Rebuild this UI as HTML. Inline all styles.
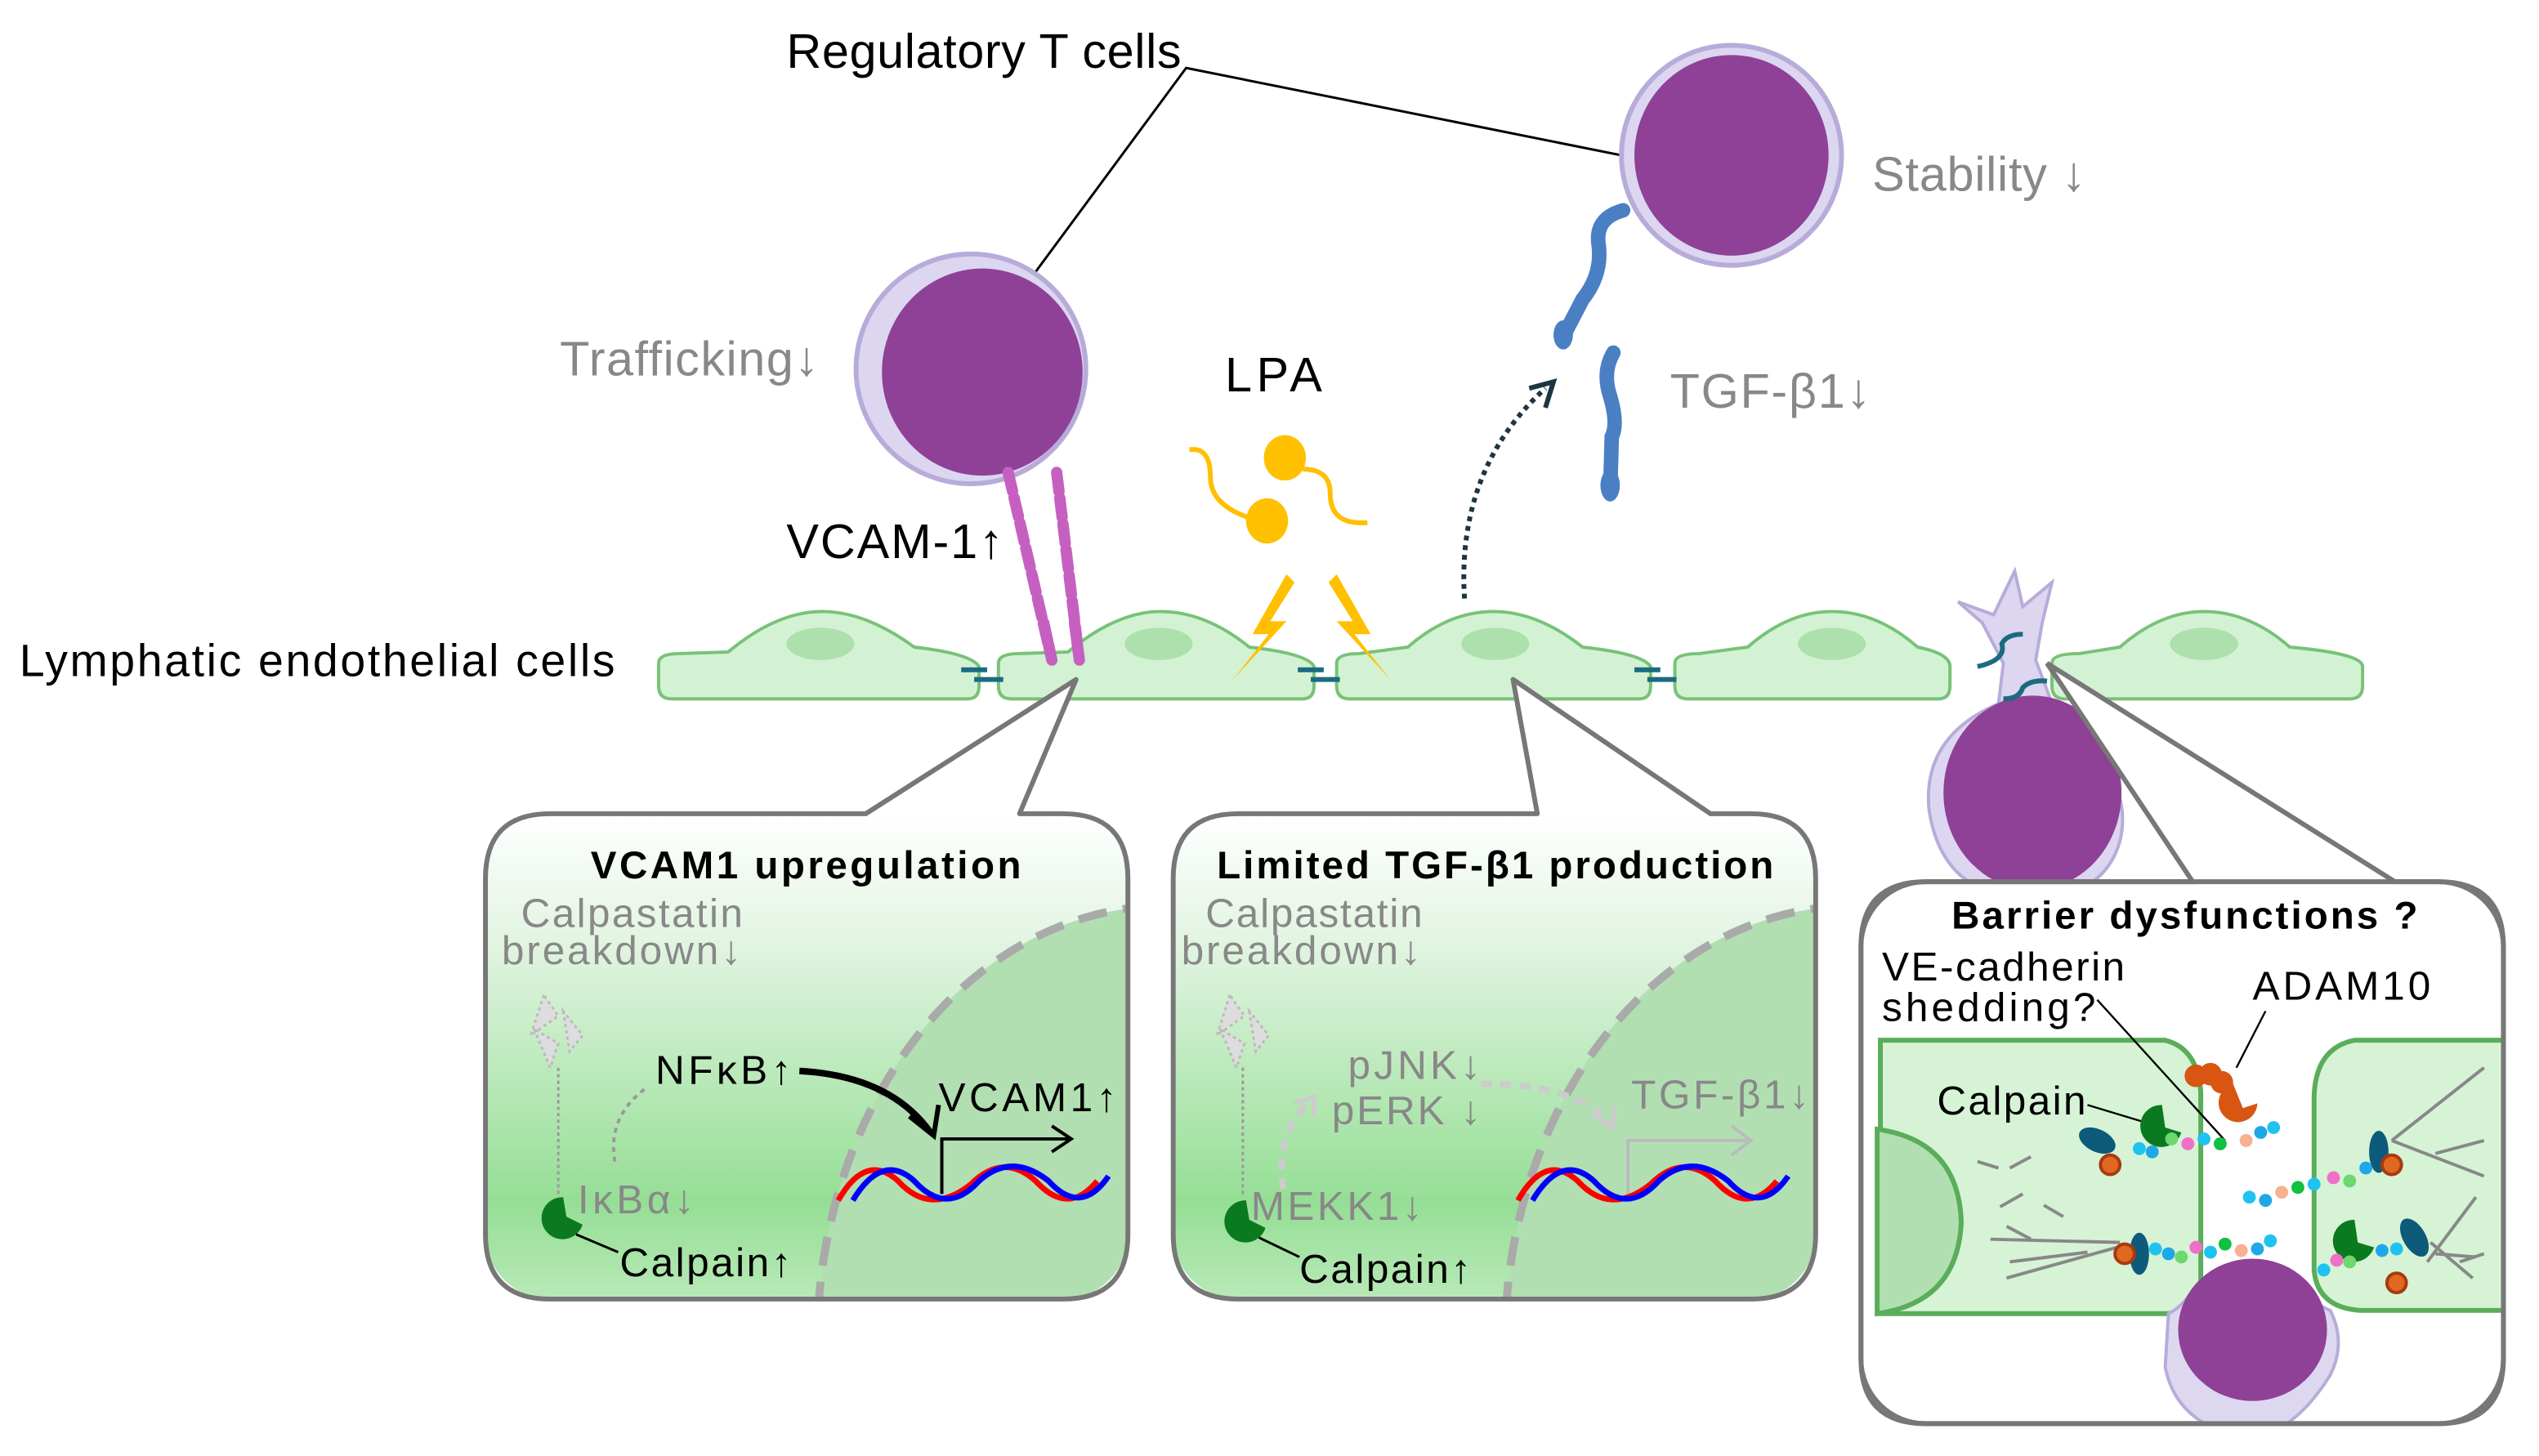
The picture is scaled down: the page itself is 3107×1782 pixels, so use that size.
<!DOCTYPE html>
<html><head><meta charset="utf-8"><style>
html,body{margin:0;padding:0;background:#fff;width:3107px;height:1782px;overflow:hidden;position:relative}
svg{display:block;position:absolute;top:0;left:0}
text{font-family:"Liberation Sans",sans-serif}
</style></head><body>
<svg width="3107" height="1782" viewBox="0 0 1569 900" preserveAspectRatio="none" xmlns="http://www.w3.org/2000/svg">
<defs>
<linearGradient id="bg" gradientUnits="userSpaceOnUse" x1="0" y1="503" x2="0" y2="803">
<stop offset="0" stop-color="#ffffff"/><stop offset="0.25" stop-color="#e4f5e4"/><stop offset="0.8" stop-color="#95de95"/><stop offset="1" stop-color="#b8e9b8"/>
</linearGradient>
<clipPath id="c1"><rect x="300" y="503" width="397" height="300" rx="40"/></clipPath>
<clipPath id="c2"><rect x="725" y="503" width="397" height="300" rx="40"/></clipPath>
<clipPath id="c3"><rect x="1150" y="545" width="397" height="335" rx="40"/></clipPath>
</defs>

<text x="486" y="42" font-size="30" textLength="244">Regulatory T cells</text>
<polyline points="640,168 733,42 1002,96" fill="none" stroke="#000" stroke-width="1.5"/>

<circle cx="600" cy="228" r="71" fill="#dcd6f0" stroke="#b7acd9" stroke-width="3"/>
<ellipse cx="607" cy="230" rx="62" ry="64" fill="#8e4196"/>
<text x="346" y="232" font-size="30" fill="#888" textLength="160">Trafficking↓</text>
<text x="486" y="345" font-size="30" textLength="134">VCAM-1↑</text>
<g stroke="#c660c0" stroke-width="7" stroke-linecap="round" fill="none">
<line x1="623" y1="292" x2="650" y2="408" stroke-dasharray="12,4"/>
<line x1="653" y1="292" x2="667" y2="408" stroke-dasharray="12,4"/>
</g>

<circle cx="1070" cy="96" r="68" fill="#dcd6f0" stroke="#b7acd9" stroke-width="3"/>
<ellipse cx="1070" cy="96" rx="60" ry="62" fill="#8e4196"/>
<text x="1157" y="118" font-size="30" fill="#888" textLength="132">Stability ↓</text>
<path d="M1003,130 Q985,135 988,152 Q990,170 978,185 L965,210" fill="none" stroke="#4a7fc4" stroke-width="9" stroke-linecap="round"/>
<ellipse cx="966" cy="207" rx="6" ry="9" fill="#4a7fc4"/>
<path d="M997,218 Q990,230 995,245 Q1000,262 996,270 L995,305" fill="none" stroke="#4a7fc4" stroke-width="9" stroke-linecap="round"/>
<ellipse cx="995" cy="300" rx="6" ry="10" fill="#4a7fc4"/>
<text x="1032" y="252" font-size="30" fill="#888" textLength="124">TGF-β1↓</text>

<text x="757" y="242" font-size="30" textLength="60">LPA</text>
<g fill="#ffc000"><ellipse cx="794" cy="283" rx="13" ry="14"/><ellipse cx="783" cy="322" rx="13" ry="14"/></g>
<g fill="none" stroke="#ffc000" stroke-width="3">
<path d="M735,278 Q748,276 748,295 Q748,312 772,320"/>
<path d="M805,290 Q822,290 822,305 Q822,325 845,323"/>
</g>
<path d="M905,370 Q900,290 955,240" fill="none" stroke="#1d3540" stroke-width="3" stroke-dasharray="3,3"/>
<polyline points="945,240 960,236 955,252" fill="none" stroke="#1d3540" stroke-width="3"/>

<text x="12" y="418" font-size="28" textLength="368">Lymphatic endothelial cells</text>

<g fill="#d3f2d3" stroke="#78c278" stroke-width="2">
<path d="M415,432 Q407,432 407,424 L407,410 Q407,404 420,404 L450,403 Q480,378 508,378 Q535,378 565,400 Q600,404 605,412 L605,424 Q605,432 598,432 Z"/>
<path d="M625,432 Q617,432 617,424 L617,410 Q617,404 630,404 L660,403 Q690,378 717,378 Q745,378 772,400 Q808,404 812,412 L812,424 Q812,432 805,432 Z"/>
<path d="M834,432 Q826,432 826,424 L826,410 Q826,404 840,404 L870,400 Q895,378 923,378 Q950,378 978,400 Q1015,404 1020,412 L1020,424 Q1020,432 1013,432 Z"/>
<path d="M1043,432 Q1035,432 1035,424 L1035,410 Q1035,404 1050,404 L1080,400 Q1105,378 1132,378 Q1160,378 1185,400 Q1205,404 1205,412 L1205,424 Q1205,432 1198,432 Z"/>
<path d="M1276,432 Q1268,432 1268,424 L1268,410 Q1268,404 1285,404 L1310,400 Q1335,378 1362,378 Q1390,378 1415,400 Q1460,404 1460,412 L1460,424 Q1460,432 1452,432 Z"/>
</g>
<g fill="#ade0ad"><ellipse cx="507" cy="398" rx="21" ry="10"/><ellipse cx="716" cy="398" rx="21" ry="10"/><ellipse cx="924" cy="398" rx="21" ry="10"/><ellipse cx="1132" cy="398" rx="21" ry="10"/><ellipse cx="1362" cy="398" rx="21" ry="10"/></g>
<g stroke="#c660c0" stroke-width="7" stroke-linecap="round"><line x1="645" y1="385" x2="650" y2="408"/><line x1="664" y1="385" x2="667" y2="408"/></g>
<polygon points="795,355 774,392 784,392 762,420 795,384 785,384 800,360" fill="#ffc000"/>
<polygon points="826,355 847,392 837,392 859,420 826,384 836,384 821,360" fill="#ffc000"/>
<g stroke="#1b6a82" stroke-width="3">
<line x1="594" y1="414" x2="610" y2="414"/><line x1="602" y1="420" x2="620" y2="420"/>
<line x1="802" y1="414" x2="818" y2="414"/><line x1="810" y1="420" x2="828" y2="420"/>
<line x1="1010" y1="414" x2="1026" y2="414"/><line x1="1018" y1="420" x2="1036" y2="420"/>
</g>
<path d="M1245,353 L1250,375 L1268,360 L1262,385 L1258,408 L1270,440 Q1320,480 1310,520 Q1300,555 1255,555 Q1200,555 1192,500 Q1188,455 1235,435 L1238,410 L1225,385 L1210,372 L1232,380 Z" fill="#dcd6f0" stroke="#b7acd9" stroke-width="2"/>
<ellipse cx="1256" cy="490" rx="55" ry="60" fill="#8e4196"/>
<g stroke="#1b6a82" stroke-width="3" fill="none"><path d="M1222,412 Q1240,408 1237,398 Q1240,392 1250,392"/><path d="M1238,432 Q1248,432 1250,425 Q1255,420 1265,421"/></g>

<path d="M535,503 L665,420 L630,503 Z" fill="#fff"/>
<path d="M950,503 L935,420 L1057,503 Z" fill="#fff"/>
<g clip-path="url(#c1)"><rect x="300" y="503" width="397" height="300" fill="url(#bg)"/>
<ellipse cx="720" cy="830" rx="215" ry="270" fill="#b1dfb1" stroke="#aaa" stroke-width="5" stroke-dasharray="18,10"/></g>
<g clip-path="url(#c2)"><rect x="725" y="503" width="397" height="300" fill="url(#bg)"/>
<ellipse cx="1145" cy="830" rx="215" ry="270" fill="#b1dfb1" stroke="#aaa" stroke-width="5" stroke-dasharray="18,10"/></g>
<g fill="none" stroke="#777" stroke-width="3" stroke-linejoin="round">
<path d="M340,503 L535,503 L665,420 L630,503 L657,503 Q697,503 697,543 L697,763 Q697,803 657,803 L340,803 Q300,803 300,763 L300,543 Q300,503 340,503 Z"/>
<path d="M765,503 L950,503 L935,420 L1057,503 L1082,503 Q1122,503 1122,543 L1122,763 Q1122,803 1082,803 L765,803 Q725,803 725,763 L725,543 Q725,503 765,503 Z"/>
</g>
<path d="M1190,545 L1355,545 L1265,410 L1480,545 L1507,545 Q1547,545 1547,585 L1547,840 Q1547,880 1507,880 L1190,880 Q1150,880 1150,840 L1150,585 Q1150,545 1190,545 Z" fill="#fff" stroke="#777" stroke-width="3"/>

<text x="498" y="543" font-size="24" font-weight="bold" text-anchor="middle" textLength="266">VCAM1 upregulation</text>
<text x="322" y="573" font-size="25" fill="#888" textLength="137">Calpastatin</text>
<text x="310" y="596" font-size="25" fill="#888" textLength="148">breakdown↓</text>
<g fill="#ddd" stroke="#bbb" stroke-dasharray="2,2" stroke-width="1.5">
<polygon points="336,615 328,640 345,628"/><polygon points="330,636 340,660 345,645"/><polygon points="348,625 352,650 360,640"/>
</g>
<line x1="345" y1="660" x2="345" y2="738" stroke="#999" stroke-width="1.5" stroke-dasharray="2,2"/>
<path d="M380,718 Q375,690 400,672" fill="none" stroke="#999" stroke-width="2" stroke-dasharray="3,3"/>
<text x="357" y="750" font-size="25" fill="#888" textLength="72">IκBα↓</text>
<path d="M348,740 A13,13 0 1 0 360,757 L350,752 Z" fill="#0b7a1e"/>
<line x1="356" y1="763" x2="382" y2="774" stroke="#000" stroke-width="1.5"/>
<text x="383" y="789" font-size="25" textLength="106">Calpain↑</text>
<text x="405" y="670" font-size="25" textLength="84">NFκB↑</text>
<path d="M494,662 Q550,665 575,700" fill="none" stroke="#000" stroke-width="4"/>
<polyline points="562,690 577,702 580,683" fill="none" stroke="#000" stroke-width="3"/>
<text x="580" y="687" font-size="25" textLength="110">VCAM1↑</text>
<polyline points="582,738 582,704 660,704" fill="none" stroke="#000" stroke-width="2"/>
<polyline points="650,696 662,704 650,712" fill="none" stroke="#000" stroke-width="2"/>
<path d="M518,742 Q535,712 555,730 Q575,752 600,732 Q620,712 640,730 Q660,752 678,730" fill="none" stroke="#f00" stroke-width="3.5"/>
<path d="M527,742 Q545,712 565,730 Q585,752 605,730 Q625,712 648,730 Q668,752 685,727" fill="none" stroke="#00f" stroke-width="3.5"/>

<text x="924" y="543" font-size="24" font-weight="bold" text-anchor="middle" textLength="344">Limited TGF-β1 production</text>
<text x="745" y="573" font-size="25" fill="#888" textLength="134">Calpastatin</text>
<text x="730" y="596" font-size="25" fill="#888" textLength="148">breakdown↓</text>
<g fill="#ddd" stroke="#bbb" stroke-dasharray="2,2" stroke-width="1.5">
<polygon points="760,615 752,640 769,628"/><polygon points="754,636 764,660 769,645"/><polygon points="772,625 776,650 784,640"/>
</g>
<line x1="768" y1="660" x2="768" y2="738" stroke="#999" stroke-width="1.5" stroke-dasharray="2,2"/>
<path d="M793,735 Q788,700 810,680" fill="none" stroke="#ccc" stroke-width="4" stroke-dasharray="7,5"/>
<polyline points="800,682 812,678 812,690" fill="none" stroke="#ccc" stroke-width="3"/>
<text x="833" y="667" font-size="25" fill="#888" textLength="82">pJNK↓</text>
<text x="823" y="695" font-size="25" fill="#888" textLength="92">pERK ↓</text>
<path d="M915,670 Q975,670 995,695" fill="none" stroke="#ccc" stroke-width="4" stroke-dasharray="7,5"/>
<polyline points="985,690 996,697 998,684" fill="none" stroke="#ccc" stroke-width="3"/>
<text x="1008" y="685" font-size="25" fill="#888" textLength="110">TGF-β1↓</text>
<polyline points="1006,738 1006,705 1080,705" fill="none" stroke="#bbb" stroke-width="2"/>
<polyline points="1070,696 1082,705 1070,714" fill="none" stroke="#bbb" stroke-width="2"/>
<path d="M938,742 Q955,712 975,730 Q995,752 1020,732 Q1040,712 1060,730 Q1080,752 1098,730" fill="none" stroke="#f00" stroke-width="3.5"/>
<path d="M947,742 Q965,712 985,730 Q1005,752 1025,730 Q1045,712 1068,730 Q1088,752 1105,727" fill="none" stroke="#00f" stroke-width="3.5"/>
<text x="773" y="754" font-size="25" fill="#888" textLength="106">MEKK1↓</text>
<path d="M770,742 A13,13 0 1 0 782,759 L772,754 Z" fill="#0b7a1e"/>
<line x1="778" y1="765" x2="803" y2="777" stroke="#000" stroke-width="1.5"/>
<text x="803" y="793" font-size="25" textLength="106">Calpain↑</text>

<g clip-path="url(#c3)">
<path d="M1162,643 L1338,643 Q1358,648 1360,675 L1360,800 Q1355,810 1340,812 L1162,812 Z" fill="#d6f3d6" stroke="#5aad5a" stroke-width="3"/>
<path d="M1548,643 L1455,643 Q1430,648 1430,680 L1430,785 Q1432,808 1458,810 L1548,810 Z" fill="#d6f3d6" stroke="#5aad5a" stroke-width="3"/>
<path d="M1160,698 Q1210,705 1212,755 Q1210,805 1160,812 Z" fill="#b1dfb1" stroke="#5aad5a" stroke-width="3"/>
<g stroke="#888" stroke-width="2">
<line x1="1222" y1="718" x2="1235" y2="722"/><line x1="1242" y1="722" x2="1255" y2="715"/><line x1="1236" y1="746" x2="1250" y2="738"/><line x1="1263" y1="745" x2="1275" y2="752"/>
<line x1="1230" y1="766" x2="1310" y2="768"/><line x1="1240" y1="758" x2="1255" y2="766"/><line x1="1240" y1="790" x2="1312" y2="770"/><line x1="1242" y1="780" x2="1290" y2="774"/>
<line x1="1478" y1="705" x2="1535" y2="660"/><line x1="1478" y1="705" x2="1535" y2="727"/><line x1="1505" y1="713" x2="1535" y2="705"/>
<line x1="1500" y1="780" x2="1530" y2="740"/><line x1="1502" y1="768" x2="1528" y2="790"/><line x1="1505" y1="775" x2="1530" y2="777"/><line x1="1520" y1="780" x2="1535" y2="775"/>
</g>
<path d="M1340,812 Q1348,808 1355,798 Q1385,780 1420,795 Q1428,805 1440,810 Q1450,830 1440,850 Q1415,890 1385,888 Q1345,880 1338,845 Z" fill="#ddd8f0" stroke="#b7acd9" stroke-width="2"/>
<ellipse cx="1392" cy="822" rx="46" ry="44" fill="#8e4196"/>
</g>
<rect x="1150" y="545" width="397" height="335" rx="40" fill="none" stroke="#777" stroke-width="3"/>
<text x="1350" y="574" font-size="24" font-weight="bold" text-anchor="middle" textLength="288">Barrier dysfunctions ?</text>
<text x="1163" y="606" font-size="25" textLength="150">VE-cadherin</text>
<text x="1163" y="631" font-size="25" textLength="132">shedding?</text>
<text x="1392" y="618" font-size="25" textLength="110">ADAM10</text>
<line x1="1296" y1="618" x2="1375" y2="705" stroke="#000" stroke-width="1.2"/>
<line x1="1400" y1="625" x2="1382" y2="660" stroke="#000" stroke-width="1.2"/>
<g fill="#d85512"><circle cx="1357" cy="665" r="7"/><circle cx="1366" cy="664" r="7"/><circle cx="1373" cy="669" r="7"/><path d="M1380,670 A12,12 0 1 0 1395,682 L1386,685 Z"/></g>
<text x="1197" y="689" font-size="25" textLength="92">Calpain</text>
<line x1="1290" y1="683" x2="1323" y2="693" stroke="#000" stroke-width="1.2"/>
<g fill="#0b7a1e"><path d="M1336,683 A13,13 0 1 0 1348,700 L1338,697 Z"/><path d="M1455,754 A13,13 0 1 0 1467,771 L1457,768 Z"/></g>
<g fill="#0e5a7a"><ellipse cx="1296" cy="705" rx="12" ry="7" transform="rotate(25 1296 705)"/><ellipse cx="1470" cy="712" rx="6" ry="13"/><ellipse cx="1322" cy="775" rx="6" ry="13"/><ellipse cx="1492" cy="765" rx="7" ry="13" transform="rotate(-30 1492 765)"/></g>
<g fill="#e06820" stroke="#a83a10" stroke-width="2"><circle cx="1304" cy="720" r="6"/><circle cx="1478" cy="720" r="6"/><circle cx="1313" cy="775" r="6"/><circle cx="1481" cy="793" r="6"/></g>
<g>
<circle cx="1322" cy="710" r="4" fill="#1ec3f0"/><circle cx="1330" cy="712" r="4" fill="#1ea8e8"/><circle cx="1342" cy="704" r="4" fill="#6dd86d"/><circle cx="1352" cy="707" r="4" fill="#f070c8"/><circle cx="1362" cy="704" r="4" fill="#1ec3f0"/><circle cx="1372" cy="707" r="4" fill="#10c040"/><circle cx="1388" cy="705" r="4" fill="#f7b090"/><circle cx="1397" cy="700" r="4" fill="#1ea8e8"/><circle cx="1405" cy="697" r="4" fill="#1ec3f0"/>
<circle cx="1390" cy="740" r="4" fill="#1ec3f0"/><circle cx="1400" cy="742" r="4" fill="#1ea8e8"/><circle cx="1410" cy="737" r="4" fill="#f7b090"/><circle cx="1420" cy="734" r="4" fill="#10c040"/><circle cx="1430" cy="732" r="4" fill="#1ec3f0"/><circle cx="1442" cy="728" r="4" fill="#f070c8"/><circle cx="1452" cy="730" r="4" fill="#6dd86d"/><circle cx="1462" cy="722" r="4" fill="#1ea8e8"/>
<circle cx="1332" cy="772" r="4" fill="#1ec3f0"/><circle cx="1340" cy="775" r="4" fill="#1ea8e8"/><circle cx="1348" cy="777" r="4" fill="#6dd86d"/><circle cx="1357" cy="771" r="4" fill="#f070c8"/><circle cx="1366" cy="774" r="4" fill="#1ec3f0"/><circle cx="1375" cy="769" r="4" fill="#10c040"/><circle cx="1385" cy="773" r="4" fill="#f7b090"/><circle cx="1395" cy="772" r="4" fill="#1ea8e8"/><circle cx="1403" cy="767" r="4" fill="#1ec3f0"/>
<circle cx="1436" cy="785" r="4" fill="#1ec3f0"/><circle cx="1444" cy="779" r="4" fill="#f070c8"/><circle cx="1452" cy="780" r="4" fill="#6dd86d"/><circle cx="1472" cy="773" r="4" fill="#1ea8e8"/><circle cx="1481" cy="772" r="4" fill="#1ec3f0"/>
</g>
</svg>
</body></html>
